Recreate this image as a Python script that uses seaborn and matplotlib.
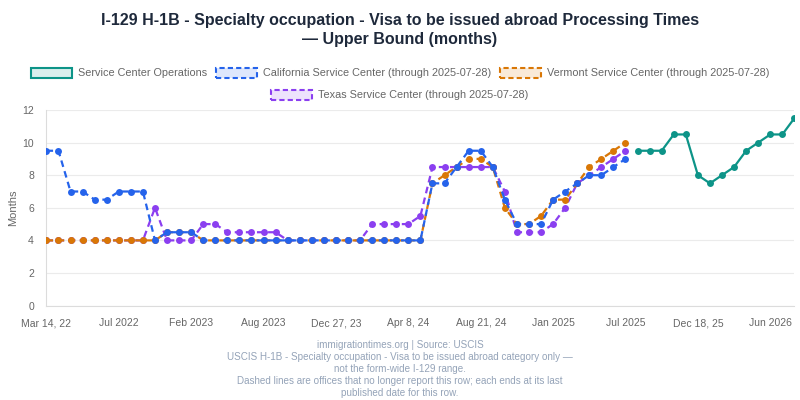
import matplotlib
matplotlib.use("Agg")
import matplotlib.pyplot as plt
import pandas as pd
import seaborn as sns
from matplotlib.colors import to_rgba
from matplotlib.patches import Patch

# chart text
title_lines = ["I-129 H-1B - Specialty occupation - Visa to be issued abroad Processing Times",
               "\u2014 Upper Bound (months)"]
footer_lines = ["immigrationtimes.org | Source: USCIS",
                "USCIS H-1B - Specialty occupation - Visa to be issued abroad category only \u2014",
                "not the form-wide I-129 range.",
                "Dashed lines are offices that no longer report this row; each ends at its last",
                "published date for this row."]

# category axis: 63 report dates, labelled every 6th
n_points = 63
tick_index = [0, 6, 12, 18, 24, 30, 36, 42, 48, 54, 60]
tick_labels = ["Mar 14, 22", "Jul 2022", "Feb 2023", "Aug 2023", "Dec 27, 23", "Apr 8, 24",
               "Aug 21, 24", "Jan 2025", "Jul 2025", "Dec 18, 25", "Jun 2026"]

# values (months); office series start at index 0, operations series starts at index 49
california = [9.5, 9.5, 7, 7, 6.5, 6.5, 7, 7, 7, 4, 4.5, 4.5, 4.5,
              4, 4, 4, 4, 4, 4, 4, 4, 4, 4, 4, 4, 4, 4, 4, 4, 4, 4, 4,
              7.5, 7.5, 8.5, 9.5, 9.5, 8.5, 6.5, 5, 5, 5, 6.5, 7, 7.5, 8, 8, 8.5, 9]
vermont = [4, 4, 4, 4, 4, 4, 4, 4, 4, 4, 4.5, 4.5, 4.5,
           4, 4, 4, 4, 4, 4, 4, 4, 4, 4, 4, 4, 4, 4, 4, 4, 4, 4, 4,
           7.5, 8, 8.5, 9, 9, 8.5, 6, 5, 5, 5.5, 6.5, 6.5, 7.5, 8.5, 9, 9.5, 10]
texas = [4, 4, 4, 4, 4, 4, 4, 4, 4, 6, 4, 4, 4, 5, 5, 4.5, 4.5, 4.5, 4.5, 4.5,
         4, 4, 4, 4, 4, 4, 4, 5, 5, 5, 5, 5.5,
         8.5, 8.5, 8.5, 8.5, 8.5, 8.5, 7, 4.5, 4.5, 4.5, 5, 6, 7.5, 8, 8.5, 9, 9.5]
operations_start = 49
operations = [9.5, 9.5, 9.5, 10.5, 10.5, 8, 7.5, 8, 8.5, 9.5, 10, 10.5, 10.5, 11.5]

series = [
    # name, values, first index, colour, dashed, zorder
    ("Service Center Operations", operations, operations_start, "#0d9488", False, 6),
    ("California Service Center (through 2025-07-28)", california, 0, "#2563eb", True, 5),
    ("Vermont Service Center (through 2025-07-28)", vermont, 0, "#d97706", True, 4),
    ("Texas Service Center (through 2025-07-28)", texas, 0, "#8b3ff0", True, 3),
]

frames = []
for name, vals, start, _, _, _ in series:
    frames.append(pd.DataFrame({"idx": range(start, start + len(vals)), "months": vals, "office": name}))
df = pd.concat(frames, ignore_index=True)

sns.set_style("white")
plt.rcParams["font.family"] = ["Liberation Sans", "DejaVu Sans"]

fig = plt.figure(figsize=(8, 4), dpi=100)
ax = fig.add_axes([0.058, 0.236, 0.935, 0.489])

for name, vals, start, color, dashed, z in series:
    sub = df[df["office"] == name]
    ls = (0, (3, 2)) if dashed else "-"
    sns.lineplot(data=sub, x="idx", y="months", ax=ax, color=color, linewidth=1.6,
                 linestyle=ls, marker="o", markersize=5, markeredgewidth=0, zorder=z)

ax.set_xlim(0, n_points - 1)
ax.set_ylim(0, 12)
ax.set_yticks([0, 2, 4, 6, 8, 10, 12])
ax.set_xticks(tick_index)
ax.set_xticklabels(tick_labels)
ax.set_xlabel("")
ax.set_ylabel("Months", color="#666666", fontsize=8, labelpad=3)
ax.tick_params(axis="y", colors="#666666", labelsize=7.5, length=6, width=0.8, pad=3)
ax.tick_params(axis="y", color="#e8e8e8")
ax.tick_params(axis="x", colors="#666666", labelsize=7.5, length=0, pad=9)
ax.grid(axis="y", color="#ebebeb", linewidth=0.8)
ax.grid(axis="x", visible=False)
for side in ["top", "right"]:
    ax.spines[side].set_visible(False)
for side in ["left", "bottom"]:
    ax.spines[side].set_color("#dcdcdc")
    ax.spines[side].set_linewidth(0.8)

fig.text(0.5, 1 - 20 / 400, title_lines[0], ha="center", va="center", fontsize=11.5,
         fontweight="bold", color="#1e293b")
fig.text(0.5, 1 - 39.5 / 400, title_lines[1], ha="center", va="center", fontsize=11.5,
         fontweight="bold", color="#1e293b")

handles = []
for name, vals, start, color, dashed, z in series:
    handles.append(Patch(facecolor=to_rgba(color, 0.15), edgecolor=color, linewidth=1.5,
                         linestyle=(0, (2.5, 1.5)) if dashed else "-", label=name))

leg_kw = dict(frameon=False, fontsize=7.8, handlelength=3.8, handleheight=1.1,
              handletextpad=0.55, columnspacing=0.8, borderpad=0, labelcolor="#666666")
fig.legend(handles=handles[:3], loc="center", bbox_to_anchor=(0.5, 1 - 73 / 400), ncol=3, **leg_kw)
fig.legend(handles=handles[3:], loc="center", bbox_to_anchor=(0.5, 1 - 95 / 400), ncol=1, **leg_kw)

for i, line in enumerate(footer_lines):
    fig.text(0.5, 1 - (345 + 12.1 * i) / 400, line, ha="center", va="center",
             fontsize=7.1, color="#94a3b8")

fig.savefig("out.png", dpi=100)
